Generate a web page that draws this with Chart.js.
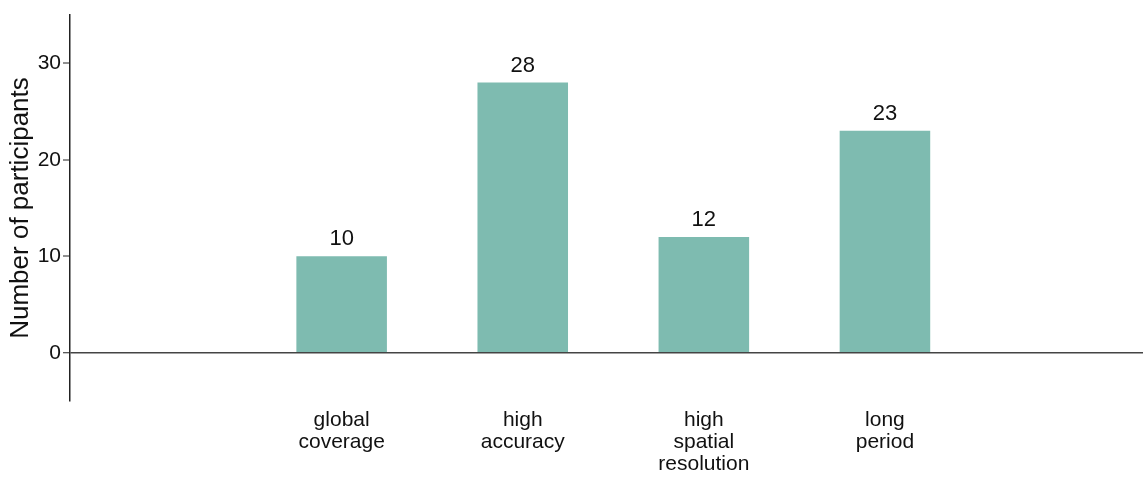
<!DOCTYPE html>
<html>
<head>
<meta charset="utf-8">
<script src="https://cdn.jsdelivr.net/npm/chart.js@4/dist/chart.umd.min.js"></script>
<style>
  html, body { margin: 0; padding: 0; background: #fff; overflow: hidden; }
  #wrap { width: 1143px; height: 477px; position: relative; }
</style>
</head>
<body>
<div id="wrap"><canvas id="c" width="1143" height="477"></canvas></div>
<script>
const categories = [["global", "coverage"], ["high", "accuracy"], ["high", "spatial", "resolution"], ["long", "period"]];
const positions = [1, 2, 3, 4];
const participants = [10, 28, 12, 23];
const yTicks = [0, 10, 20, 30];

const FONT = "'Liberation Sans', Arial, sans-serif";
const barColor = '#7EBBB0';

const valueLabels = {
  id: 'valueLabels',
  afterDatasetsDraw(chart) {
    const ctx = chart.ctx;
    const meta = chart.getDatasetMeta(0);
    ctx.save();
    ctx.font = '22px ' + FONT;
    ctx.fillStyle = '#111';
    ctx.textAlign = 'center';
    ctx.textBaseline = 'alphabetic';
    meta.data.forEach((bar, i) => {
      ctx.fillText(String(participants[i]), bar.x, bar.y - 11);
    });
    ctx.restore();
  }
};

new Chart(document.getElementById('c'), {
  type: 'bar',
  data: {
    datasets: [{
      data: positions.map((p, i) => ({ x: p, y: participants[i] })),
      backgroundColor: barColor,
      borderWidth: 0,
      barPercentage: 0.5,
      categoryPercentage: 1.0
    }]
  },
  options: {
    responsive: false,
    animation: false,
    layout: { padding: { top: 15, right: 0, bottom: 0, left: 0 } },
    plugins: { legend: { display: false }, tooltip: { enabled: false } },
    scales: {
      x: {
        type: 'linear',
        offset: false,
        min: -0.5,
        max: 5.425,
        grid: { display: false },
        border: { display: false },
        afterBuildTicks: (scale) => { scale.ticks = positions.map(v => ({ value: v })); },
        afterFit: (scale) => { scale.height = 76; },
        ticks: {
          autoSkip: false,
          maxRotation: 0,
          padding: 0,
          color: '#111',
          font: { family: FONT, size: 21, lineHeight: 1.05 },
          callback: (v) => {
            const i = positions.indexOf(v);
            return i >= 0 ? categories[i] : '';
          }
        }
      },
      y: {
        min: -5,
        max: 35,
        afterBuildTicks: (scale) => { scale.ticks = yTicks.map(v => ({ value: v })); },
        afterFit: (scale) => { scale.width = 70; },
        border: { display: true, color: '#222', width: 1.5 },
        grid: {
          drawOnChartArea: true,
          color: (c) => (c.tick && c.tick.value === 0) ? '#444' : 'rgba(0,0,0,0)',
          lineWidth: (c) => (c.tick && c.tick.value === 0) ? 1.5 : 0,
          tickColor: '#222',
          tickLength: 7,
          tickWidth: 1
        },
        ticks: {
          padding: 2,
          color: '#111',
          font: { family: FONT, size: 21 }
        },
        title: {
          display: true,
          text: 'Number of participants',
          color: '#111',
          font: { family: FONT, size: 26 },
          padding: { top: 5, bottom: 0 }
        }
      }
    }
  },
  plugins: [valueLabels]
});
</script>
</body>
</html>
